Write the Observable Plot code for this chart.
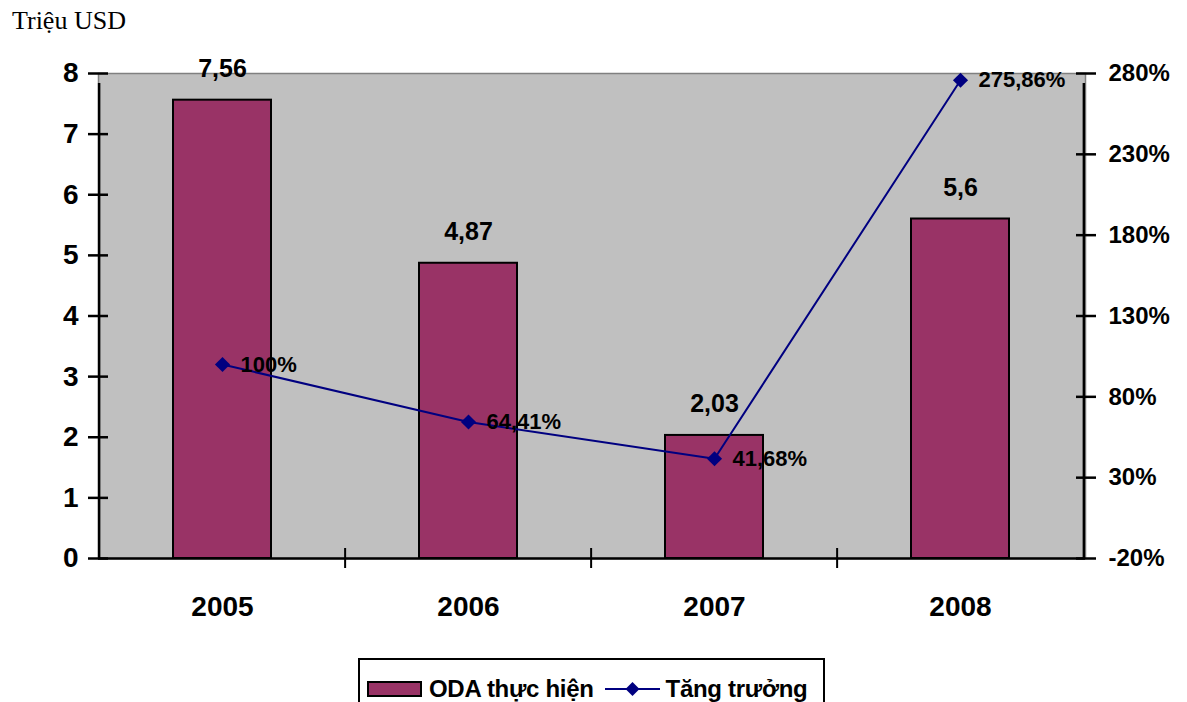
<!DOCTYPE html>
<html>
<head>
<meta charset="utf-8">
<script src="https://cdn.jsdelivr.net/npm/d3@7"></script>
<script src="https://cdn.jsdelivr.net/npm/@observablehq/plot@0.6"></script>
<style>
  html, body { margin: 0; padding: 0; background: #fff; }
  body { position: relative; width: 1187px; height: 702px; overflow: hidden; }
  #title {
    box-sizing: border-box; height: 40px; padding: 8px 0 0 12px;
    font: 26px/25px "Liberation Serif", "Times New Roman", serif; color: #000;
  }
  #chart svg { display: block; overflow: visible; }
  #legend {
    position: absolute; left: 358px; top: 658px; width: 467px; height: 50px;
    box-sizing: border-box; border: 2px solid #000; background: #fff;
    padding-top: 12px; display: flex; align-items: center; height: 50px;
    font: bold 24px/18px "Liberation Sans", Arial, sans-serif; color: #000;
    letter-spacing: -0.3px;
  }
  #legend .row { display: flex; align-items: center; height: 18px; }
  #legend .swatch {
    box-sizing: border-box; width: 55px; height: 16px; margin-left: 7px; margin-right: 7px;
    background: #993366; border: 2px solid #000;
  }
  #legend svg { margin-left: 11px; margin-right: 6px; display: block; }
</style>
</head>
<body>
<div id="title">Triệu USD</div>
<div id="chart"></div>
<div id="legend">
  <div class="row">
    <span class="swatch"></span><span>ODA thực hiện</span>
    <svg width="55" height="16" viewBox="0 0 55 16">
      <line x1="0" y1="8" x2="55" y2="8" stroke="#000080" stroke-width="2"></line>
      <path d="M27.5,1 L34.5,8 L27.5,15 L20.5,8 Z" fill="#000080"></path>
    </svg><span>Tăng trưởng</span>
  </div>
</div>
<script>
// ODA disbursed per year (million USD) and its growth rate (%)
const years = ["2005", "2006", "2007", "2008"];
const odaValues = [7.56, 4.87, 2.03, 5.6];
const growthValues = [100, 64.41, 41.68, 275.86];
const leftTicks = [0, 1, 2, 3, 4, 5, 6, 7, 8];
const rightTicks = [-20, 30, 80, 130, 180, 230, 280];

// The right-hand percentage axis spans -20%..280% over the same height as 0..8
const yMax = 8, pctMin = -20, pctMax = 280;
const pctToY = p => (p - pctMin) / (pctMax - pctMin) * yMax;
const yToPct = v => Math.round(v * (pctMax - pctMin) / yMax + pctMin);
const comma = v => String(v).replace(".", ",");

const rows = years.map((year, i) => ({ year, oda: odaValues[i], growth: growthValues[i] }));

const W = 1187, H = 600;
const mL = 98, mR = 102, mT = 33, mB = 82;
const step = (W - mL - mR) / years.length;
const font = { fontSize: 28, fontWeight: "bold" };

const chart = Plot.plot({
  width: W, height: H,
  marginLeft: mL, marginRight: mR, marginTop: mT, marginBottom: mB,
  style: { fontFamily: "'Liberation Sans', Arial, sans-serif", color: "#000", background: "transparent" },
  x: { type: "band", domain: years, paddingInner: 0.6, paddingOuter: 0.3, label: null },
  y: { domain: [0, yMax], label: null },
  marks: [
    Plot.frame({ fill: "#C0C0C0", stroke: "#808080", strokeWidth: 1.5 }),
    Plot.barY(rows, { x: "year", y: "oda", fill: "#993366", stroke: "#000", strokeWidth: 2 }),
    Plot.ruleY([0], { stroke: "#000", strokeWidth: 2.5 }),
    // category separator ticks crossing the baseline
    Plot.ruleX(years.slice(1), { x: d => d, dx: -step / 2, y1: 0, y2: 0, insetTop: -10, insetBottom: -10, stroke: "#000", strokeWidth: 2 }),
    // left and right axis lines, running past the baseline
    Plot.ruleX([years[0]], { x: d => d, dx: -step / 2, y1: 0, y2: yMax, insetBottom: -10, stroke: "#000", strokeWidth: 2.5 }),
    Plot.ruleX([years[years.length - 1]], { x: d => d, dx: step / 2, y1: 0, y2: yMax, insetBottom: -10, stroke: "#000", strokeWidth: 2.5 }),
    // left axis: ticks straddle the line, labels on the outside
    Plot.axisY({ anchor: "left", ticks: leftTicks, tickSize: 20, dx: 10, tickFormat: () => "", stroke: "#000", strokeWidth: 2.5 }),
    Plot.axisY({ anchor: "left", ticks: leftTicks, tickSize: 0, tickPadding: 20, tickFormat: d => d, ...font, fill: "#000" }),
    // right axis in percent
    Plot.axisY({ anchor: "right", ticks: rightTicks.map(pctToY), tickSize: 20, dx: -10, tickFormat: () => "", stroke: "#000", strokeWidth: 2.5 }),
    Plot.axisY({ anchor: "right", ticks: rightTicks.map(pctToY), tickSize: 0, tickPadding: 23, tickFormat: v => yToPct(v) + "%", fontSize: 24, fontWeight: "bold", fill: "#000" }),
    Plot.axisX({ tickSize: 0, tickPadding: 38, ...font, fill: "#000" }),
    // value labels above the bars
    Plot.text(rows, { x: "year", y: "oda", text: d => comma(d.oda), dy: -31, fontSize: 25, fontWeight: "bold", fill: "#000" }),
    // growth line
    Plot.line(rows, { x: "year", y: d => pctToY(d.growth), stroke: "#000080", strokeWidth: 2 }),
    Plot.dot(rows, { x: "year", y: d => pctToY(d.growth), symbol: "diamond2", r: 6.8, fill: "#000080", stroke: "none" }),
    Plot.text(rows, { x: "year", y: d => pctToY(d.growth), text: d => comma(d.growth) + "%", textAnchor: "start", dx: 18, fontSize: 22, fontWeight: "bold", fill: "#000" })
  ]
});
document.getElementById("chart").appendChild(chart);
</script>
</body>
</html>
